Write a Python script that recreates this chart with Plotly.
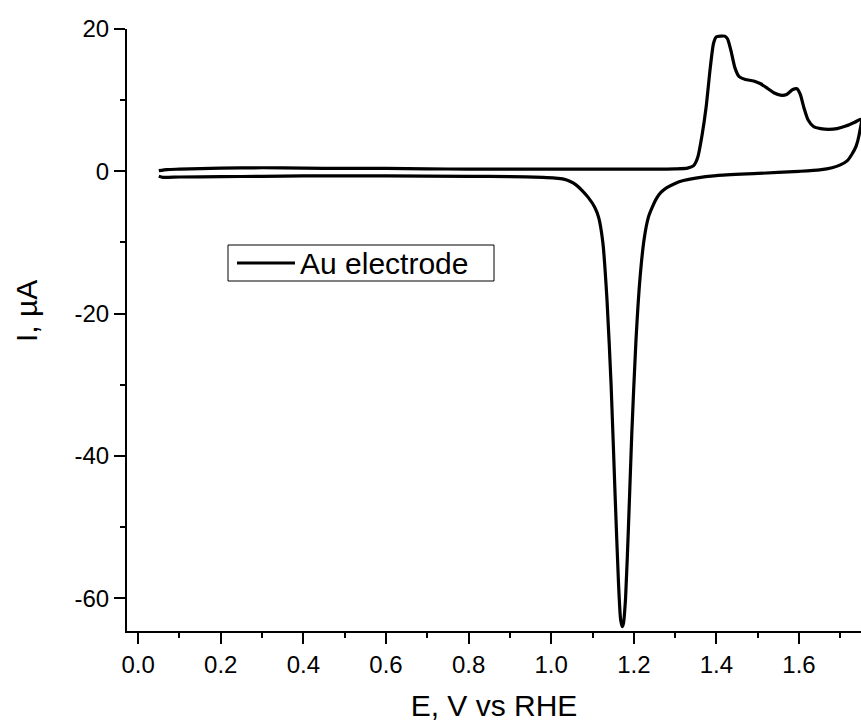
import plotly.graph_objects as go

# Anodic (forward) scan
E_fwd = [0.05, 0.07, 0.10, 0.20, 0.30, 0.40, 0.50, 0.60, 0.70, 0.80, 0.90, 1.00, 1.10, 1.20, 1.30,
         1.33, 1.345, 1.355, 1.365, 1.375, 1.385, 1.393, 1.400, 1.410, 1.420, 1.427, 1.435, 1.445,
         1.455, 1.470, 1.490, 1.507, 1.525, 1.540, 1.555, 1.570, 1.585, 1.595, 1.603, 1.612, 1.622,
         1.635, 1.652, 1.672, 1.692, 1.715, 1.735, 1.750]
I_fwd = [0.1, 0.25, 0.3, 0.45, 0.5, 0.45, 0.4, 0.4, 0.35, 0.3, 0.3, 0.3, 0.3, 0.3, 0.35,
         0.45, 0.8, 2.0, 5.0, 9.0, 14.5, 18.0, 18.9, 19.0, 19.0, 18.6, 17.0, 14.5,
         13.3, 12.9, 12.7, 12.3, 11.6, 11.0, 10.7, 10.8, 11.5, 11.6, 10.8, 8.9, 7.2,
         6.3, 6.0, 5.9, 6.0, 6.4, 6.9, 7.3]

# Cathodic (reverse) scan
E_rev = [1.750, 1.745, 1.738, 1.728, 1.717, 1.700, 1.680, 1.650, 1.600, 1.500, 1.400, 1.350,
         1.320, 1.300, 1.280, 1.265, 1.255, 1.245, 1.235, 1.225, 1.215, 1.205, 1.195, 1.187,
         1.180, 1.175, 1.172, 1.168, 1.163, 1.155, 1.145, 1.135, 1.125, 1.115, 1.105, 1.090,
         1.075, 1.060, 1.045, 1.030, 1.010, 0.980, 0.900, 0.800, 0.600, 0.400, 0.300, 0.200,
         0.100, 0.060, 0.050]
I_rev = [7.3, 5.0, 3.5, 2.4, 1.5, 0.9, 0.5, 0.2, 0.0, -0.3, -0.6, -0.95,
         -1.3, -1.7, -2.3, -3.0, -3.8, -5.0, -6.5, -9.5, -15.0, -24.0, -37.0, -50.0,
         -60.0, -63.5, -64.0, -63.0, -58.0, -46.0, -30.0, -18.0, -10.0, -6.5, -5.0, -3.7,
         -2.7, -1.9, -1.4, -1.1, -0.95, -0.85, -0.75, -0.7, -0.65, -0.65, -0.7, -0.75,
         -0.8, -0.85, -0.7]

E = E_fwd + E_rev[1:]
I = I_fwd + I_rev[1:]

x_ticks = [0.0, 0.2, 0.4, 0.6, 0.8, 1.0, 1.2, 1.4, 1.6]
x_ticklabels = ["0.0", "0.2", "0.4", "0.6", "0.8", "1.0", "1.2", "1.4", "1.6"]
y_ticks = [-60, -40, -20, 0, 20]
y_ticklabels = ["-60", "-40", "-20", "0", "20"]
series_name = "Au electrode"

FONT = "Arial, Liberation Sans, sans-serif"

# plot area in pixels: left 127, right 861, top 29, bottom 631
def px(xp):
    return (xp - 127) / 734

def py(yp):
    return (631 - yp) / 602

fig = go.Figure()
fig.add_trace(go.Scatter(
    x=E, y=I, mode="lines", name=series_name, showlegend=False,
    line=dict(color="black", width=3.2, shape="spline", smoothing=0.6),
))

axis_common = dict(
    showline=True, linecolor="black", linewidth=2,
    ticks="outside", ticklen=11, tickwidth=2, tickcolor="black",
    showgrid=False, zeroline=False, mirror=False,
    tickfont=dict(family=FONT, size=24, color="black"),
)

fig.update_layout(
    width=861, height=722,
    margin=dict(l=127, r=0, t=29, b=91),
    paper_bgcolor="white", plot_bgcolor="white",
    showlegend=False,
    xaxis=dict(
        range=[-0.027, 1.75],
        tickvals=x_ticks, ticktext=x_ticklabels,
        minor=dict(dtick=0.1, ticks="outside", ticklen=5, tickwidth=2, tickcolor="black"),
        title=dict(text="E, V vs RHE", font=dict(family=FONT, size=30, color="black"), standoff=18),
        **axis_common,
    ),
    yaxis=dict(
        range=[-64.6, 20],
        tickvals=y_ticks, ticktext=y_ticklabels,
        minor=dict(dtick=10, ticks="outside", ticklen=5, tickwidth=2, tickcolor="black"),
        **axis_common,
    ),
    shapes=[
        dict(type="rect", xref="paper", yref="paper",
             x0=px(228), x1=px(494), y0=py(281), y1=py(245),
             line=dict(color="black", width=1), fillcolor="white", layer="above"),
        dict(type="line", xref="paper", yref="paper",
             x0=px(237), x1=px(295), y0=py(263), y1=py(263),
             line=dict(color="black", width=3.2), layer="above"),
    ],
    annotations=[
        dict(text="I, µA", textangle=-90, showarrow=False,
             xref="paper", yref="paper", x=px(26), y=py(311),
             xanchor="center", yanchor="middle",
             font=dict(family=FONT, size=30, color="black")),
        dict(text=series_name, showarrow=False,
             xref="paper", yref="paper", x=px(298), y=py(263),
             xanchor="left", yanchor="middle",
             font=dict(family=FONT, size=30, color="black")),
    ],
)

fig.write_html("out.html")
